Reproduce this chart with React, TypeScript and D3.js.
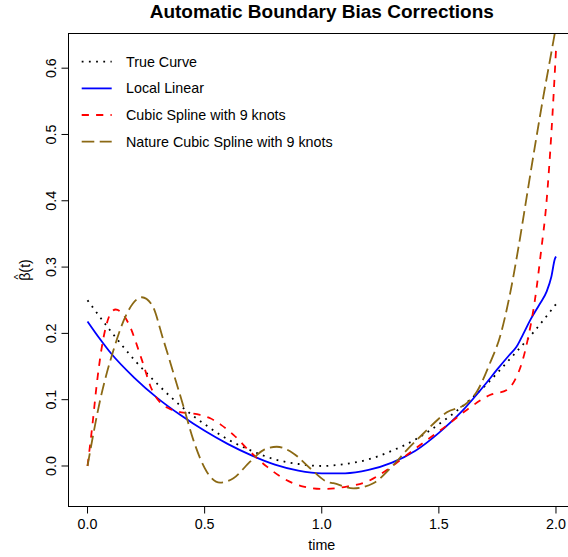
import React from "react";
import * as d3 from "d3";

const W = 568;
const H = 557;

const titleText = "Automatic Boundary Bias Corrections";
const xLabel = "time";
const xTicks = [0, 0.5, 1.0, 1.5, 2.0];
const yTicks = [0, 0.1, 0.2, 0.3, 0.4, 0.5, 0.6];
const legendLabels = [
  "True Curve",
  "Local Linear",
  "Cubic Spline with 9 knots",
  "Nature Cubic Spline with 9 knots",
];

// True curve (dotted black)
const trueT = [0, 0.1, 0.2, 0.3, 0.4, 0.5, 0.6, 0.7, 0.8, 0.9, 1.0, 1.1, 1.2, 1.3, 1.4, 1.5, 1.6, 1.7, 1.8, 1.9, 2.0];
const trueV = [0.25, 0.203, 0.16, 0.123, 0.09, 0.063, 0.04, 0.023, 0.01, 0.003, 0.0, 0.003, 0.01, 0.023, 0.04, 0.063, 0.09, 0.122, 0.16, 0.2, 0.244];

// Local linear (solid blue)
const llT = [0, 0.05, 0.1, 0.2, 0.3, 0.4, 0.5, 0.6, 0.7, 0.8, 0.9, 1.0, 1.1, 1.2, 1.3, 1.4, 1.5, 1.6, 1.7, 1.75, 1.8, 1.83, 1.86, 1.89, 1.93, 1.96, 1.98, 1.995, 2.0];
const llV = [0.218, 0.193, 0.17, 0.133, 0.102, 0.076, 0.053, 0.033, 0.016, 0.002, -0.007, -0.011, -0.011, -0.006, 0.005, 0.023, 0.05, 0.083, 0.124, 0.146, 0.167, 0.179, 0.199, 0.22, 0.244, 0.263, 0.285, 0.312, 0.316];

// Cubic spline with 9 knots (dashed red)
const csT = [0, 0.02, 0.04, 0.06, 0.08, 0.1, 0.12, 0.14, 0.175, 0.232, 0.275, 0.31, 0.346, 0.4, 0.44, 0.48, 0.524, 0.57, 0.623, 0.694, 0.766, 0.836, 0.922, 1.007, 1.107, 1.192, 1.278, 1.363, 1.448, 1.526, 1.619, 1.718, 1.79, 1.825, 1.854, 1.882, 1.91, 1.935, 1.96, 1.98, 2.0];
const csV = [0, 0.059, 0.125, 0.177, 0.212, 0.231, 0.236, 0.233, 0.215, 0.16, 0.115, 0.096, 0.087, 0.081, 0.0795, 0.077, 0.072, 0.062, 0.047, 0.0216, -0.001, -0.0186, -0.031, -0.0347, -0.031, -0.0237, -0.006, 0.0166, 0.039, 0.059, 0.0845, 0.107, 0.1146, 0.13, 0.155, 0.195, 0.25, 0.32, 0.4, 0.5, 0.627];

// Natural cubic spline with 9 knots (long-dashed brown)
const ncsT = [0, 0.054, 0.111, 0.168, 0.232, 0.275, 0.324, 0.367, 0.41, 0.452, 0.509, 0.566, 0.623, 0.694, 0.751, 0.808, 0.879, 0.95, 1.022, 1.05, 1.135, 1.22, 1.306, 1.363, 1.434, 1.534, 1.619, 1.662, 1.718, 1.761, 1.804, 1.84, 1.875, 1.91, 1.946, 1.982, 2.0];
const ncsV = [0, 0.0995, 0.175, 0.23, 0.2545, 0.243, 0.19, 0.14, 0.0895, 0.039, -0.0086, -0.025, -0.0186, 0.0065, 0.024, 0.029, 0.019, -0.0035, -0.0237, -0.026, -0.0337, -0.026, 0.0015, 0.024, 0.049, 0.081, 0.0946, 0.112, 0.155, 0.195, 0.26, 0.33, 0.406, 0.482, 0.557, 0.627, 0.663];

const FONT = "'Liberation Sans', Arial, Helvetica, sans-serif";
const FS = 14.3;

const left = 68.5;
const right = 575;
const top = 33.5;
const bottom = 506.5;

export default function App() {
  const x = d3.scaleLinear().domain([-0.0812, 2.0812]).range([left, right]);
  const y = d3.scaleLinear().domain([-0.0611, 0.6523]).range([bottom, top]);

  const mk = (ts: number[], vs: number[]) => {
    const pts = ts.map((t, i) => [t, vs[i]] as [number, number]);
    return d3
      .line<[number, number]>()
      .x((d) => x(d[0]))
      .y((d) => y(d[1]))
      .curve(d3.curveMonotoneX)(pts) as string;
  };

  const series = [
    { d: mk(trueT, trueV), color: "#000000", dash: "1.8,5.4", w: 1.8 },
    { d: mk(llT, llV), color: "#0000FF", dash: "none", w: 1.8 },
    { d: mk(csT, csV), color: "#FF0000", dash: "7.2,7.2", w: 1.8 },
    { d: mk(ncsT, ncsV), color: "#8B6914", dash: "12.6,5.4", w: 1.8 },
  ];

  const legY = [61.7, 88.4, 115, 141.7];
  const cx = (left + right) / 2;

  return (
    <div style={{ position: "absolute", left: 0, top: 0 }}>
      <svg width={W} height={H} style={{ display: "block", background: "#fff" }} fontFamily={FONT}>
        <defs>
          <clipPath id="plotclip">
            <rect x={left} y={top} width={right - left} height={bottom - top} />
          </clipPath>
        </defs>
        <rect x={0} y={0} width={W} height={H} fill="#fff" />
        <text x={cx} y={18.3} textAnchor="middle" fontSize={19} fontWeight="bold">
          {titleText}
        </text>

        <g clipPath="url(#plotclip)">
          {series.map((s, i) => (
            <path
              key={i}
              d={s.d}
              fill="none"
              stroke={s.color}
              strokeWidth={s.w}
              strokeDasharray={s.dash}
            />
          ))}
        </g>

        {/* box */}
        <rect x={left} y={top} width={right - left} height={bottom - top} fill="none" stroke="#000" strokeWidth={1} />

        {/* x axis */}
        {xTicks.map((t) => (
          <g key={"x" + t}>
            <line x1={x(t)} x2={x(t)} y1={bottom} y2={bottom + 7} stroke="#000" />
            <text x={x(t)} y={528.5} textAnchor="middle" fontSize={FS}>
              {t.toFixed(1)}
            </text>
          </g>
        ))}
        <text x={cx} y={549.5} textAnchor="middle" fontSize={FS}>
          {xLabel}
        </text>

        {/* y axis */}
        {yTicks.map((v) => (
          <g key={"y" + v}>
            <line x1={left - 7} x2={left} y1={y(v)} y2={y(v)} stroke="#000" />
            <text
              transform={`translate(55.5,${y(v)}) rotate(-90)`}
              textAnchor="middle"
              fontSize={FS}
            >
              {v.toFixed(1)}
            </text>
          </g>
        ))}
        <g transform={`translate(29.5,${(top + bottom) / 2}) rotate(-90)`}>
          <text x={0} y={0} textAnchor="middle" fontSize={FS}>
            β(t)
          </text>
          <text x={-7} y={-8} textAnchor="middle" fontSize={11}>
            ^
          </text>
        </g>

        {/* legend */}
        {series.map((s, i) => (
          <g key={"leg" + i}>
            <line
              x1={81.7}
              x2={111.7}
              y1={legY[i]}
              y2={legY[i]}
              stroke={s.color}
              strokeWidth={s.w}
              strokeDasharray={s.dash}
            />
            <text x={126} y={legY[i] + 5} fontSize={FS}>
              {legendLabels[i]}
            </text>
          </g>
        ))}
      </svg>
    </div>
  );
}
